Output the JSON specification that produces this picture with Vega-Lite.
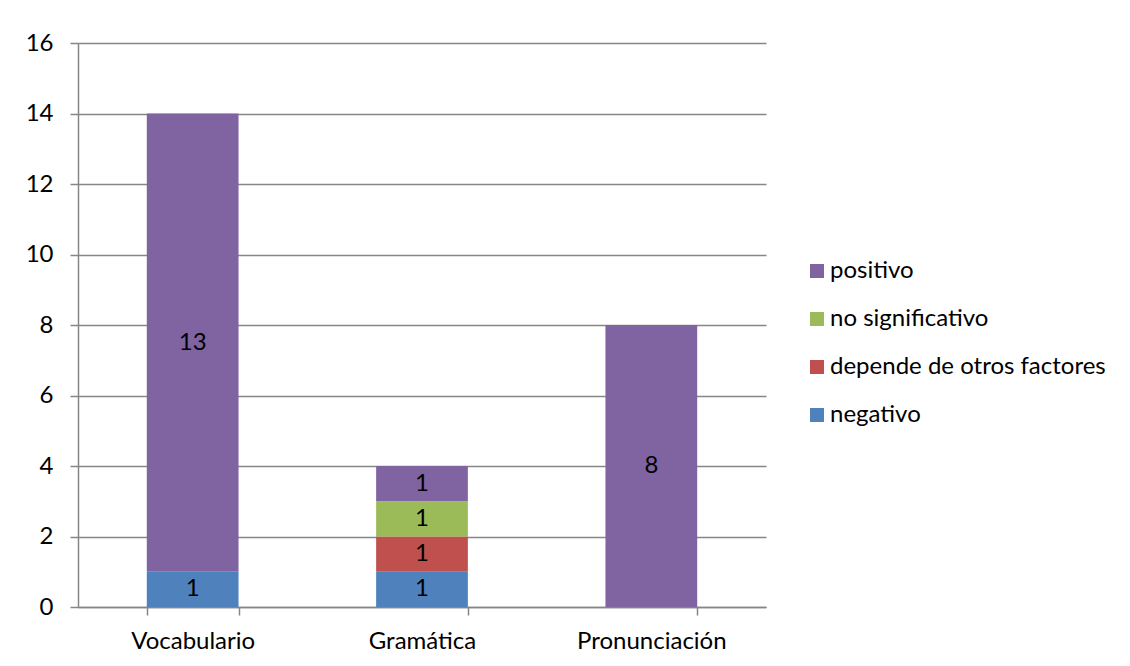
{
  "$schema": "https://vega.github.io/schema/vega-lite/v6.json",
  "width": 688,
  "height": 564,
  "autosize": {"type": "none"},
  "padding": {"left": 78, "top": 43, "right": 364, "bottom": 59},
  "background": "white",
  "config": {
    "font": "Lato",
    "view": {"stroke": null}
  },
  "data": {
    "values": [
      {"categoria": "Vocabulario", "tipo": "negativo", "valor": 1},
      {"categoria": "Vocabulario", "tipo": "positivo", "valor": 13},
      {"categoria": "Gramática", "tipo": "negativo", "valor": 1},
      {"categoria": "Gramática", "tipo": "depende de otros factores", "valor": 1},
      {"categoria": "Gramática", "tipo": "no significativo", "valor": 1},
      {"categoria": "Gramática", "tipo": "positivo", "valor": 1},
      {"categoria": "Pronunciación", "tipo": "positivo", "valor": 8}
    ]
  },
  "transform": [
    {"calculate": "indexof(['negativo','depende de otros factores','no significativo','positivo'], datum.tipo)", "as": "orden"},
    {"stack": "valor", "groupby": ["categoria"], "sort": [{"field": "orden", "order": "ascending"}], "as": ["v0", "v1"]},
    {"calculate": "(datum.v0 + datum.v1) / 2", "as": "medio"}
  ],
  "encoding": {
    "x": {
      "field": "categoria",
      "type": "nominal",
      "sort": ["Vocabulario", "Gramática", "Pronunciación"],
      "scale": {"paddingInner": 0.6, "paddingOuter": 0.3},
      "axis": {
        "title": null,
        "labelAngle": 0,
        "tickBand": "extent",
        "tickSize": 8,
        "tickColor": "#868686",
        "tickWidth": 1.5,
        "domainColor": "#868686",
        "domainWidth": 1.5,
        "labelFont": "Lato",
        "labelFontSize": 24,
        "labelColor": "#000000",
        "labelPadding": 14,
        "grid": false
      }
    }
  },
  "layer": [
    {
      "mark": {"type": "bar"},
      "encoding": {
        "y": {
          "field": "v0",
          "type": "quantitative",
          "scale": {"domain": [0, 16], "nice": false},
          "axis": {
            "title": null,
            "values": [0, 2, 4, 6, 8, 10, 12, 14, 16],
            "grid": true,
            "gridColor": "#868686",
            "gridWidth": 1.5,
            "tickSize": 8,
            "tickColor": "#868686",
            "tickWidth": 1.5,
            "domainColor": "#868686",
            "domainWidth": 1.5,
            "labelFont": "Lato",
            "labelFontSize": 24,
            "labelColor": "#000000",
            "labelPadding": 17
          }
        },
        "y2": {"field": "v1"},
        "color": {
          "field": "tipo",
          "type": "nominal",
          "scale": {
            "domain": ["positivo", "no significativo", "depende de otros factores", "negativo"],
            "range": ["#8064A2", "#9BBB59", "#C0504D", "#4F81BD"]
          },
          "legend": {
            "title": null,
            "orient": "none",
            "legendX": 727,
            "legendY": 216,
            "padding": 0,
            "symbolType": "square",
            "symbolSize": 196,
            "symbolStrokeWidth": 0,
            "labelFont": "Lato",
            "labelFontSize": 24,
            "labelColor": "#000000",
            "labelOffset": 1,
            "labelLimit": 400,
            "rowPadding": 24
          }
        }
      }
    },
    {
      "mark": {"type": "text", "fontSize": 24, "font": "Lato", "color": "#000000", "baseline": "middle"},
      "encoding": {
        "y": {"field": "medio", "type": "quantitative"},
        "text": {"field": "valor", "type": "quantitative"}
      }
    }
  ]
}
